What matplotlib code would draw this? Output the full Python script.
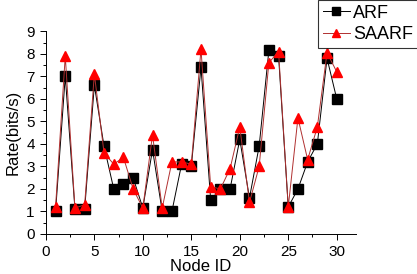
import matplotlib
matplotlib.use("Agg")
import matplotlib.pyplot as plt
from matplotlib.ticker import MultipleLocator

plt.rcParams['font.family'] = ['Liberation Sans', 'DejaVu Sans']

node_id = list(range(1, 31))
arf = [1.0, 7.0, 1.1, 1.1, 6.6, 3.9, 2.0, 2.2, 2.5, 1.15,
       3.75, 1.0, 1.0, 3.1, 3.0, 7.4, 1.5, 2.0, 2.0, 4.2,
       1.6, 3.9, 8.15, 7.9, 1.2, 2.0, 3.2, 4.0, 7.8, 6.0]
saarf = [1.2, 7.9, 1.15, 1.3, 7.1, 3.6, 3.1, 3.4, 2.0, 1.15,
         4.4, 1.15, 3.2, 3.2, 3.1, 8.2, 2.1, 2.0, 2.9, 4.75,
         1.4, 3.0, 7.6, 8.1, 1.2, 5.15, 3.3, 4.75, 8.05, 7.2]

fig = plt.figure(figsize=(4.17, 2.74), dpi=100)
ax = fig.add_axes([0.110, 0.146, 0.744, 0.74])

ax.plot(node_id, arf, color='black', marker='s', markersize=7.5, linewidth=0.7,
        label='ARF')
ax.plot(node_id, saarf, color='#b03030', marker='^', markersize=7.5, linewidth=0.7,
        markerfacecolor='red', markeredgecolor='red', label='SAARF')

ax.set_xlim(0, 32)
ax.set_ylim(0, 9)
ax.xaxis.set_major_locator(MultipleLocator(5))
ax.xaxis.set_minor_locator(MultipleLocator(2.5))
ax.yaxis.set_major_locator(MultipleLocator(1))
ax.yaxis.set_minor_locator(MultipleLocator(0.5))
ax.tick_params(which='both', direction='out', labelsize=11, pad=4)
ax.tick_params(which='major', length=4, width=0.7)
ax.tick_params(which='minor', length=2, width=0.7)
for s in ['top', 'right']:
    ax.spines[s].set_visible(False)
for s in ['left', 'bottom']:
    ax.spines[s].set_linewidth(0.7)

ax.set_xlabel('Node ID', fontsize=12, labelpad=0)
ax.set_ylabel('Rate(bits/s)', fontsize=12, labelpad=4)

leg = fig.legend(loc='upper right', bbox_to_anchor=(1.002, 1.0), fontsize=13,
                 frameon=True, fancybox=False, edgecolor='black',
                 handlelength=1.5, handletextpad=0.2, borderpad=0.25,
                 labelspacing=0.25, borderaxespad=0, markerscale=0.8)
leg.get_frame().set_linewidth(0.8)

fig.savefig('out.png', dpi=100)
